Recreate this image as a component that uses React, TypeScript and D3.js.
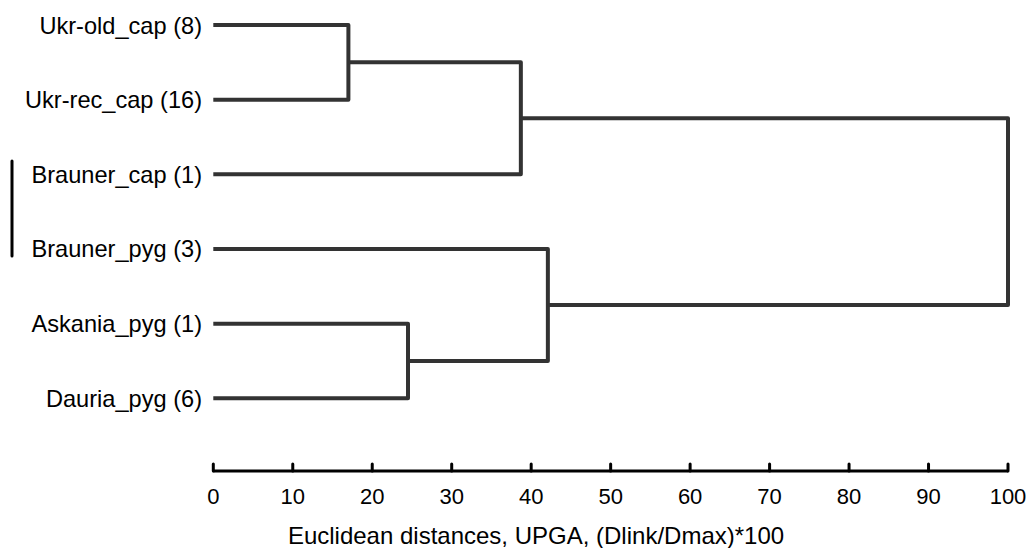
import React from 'react';
import * as d3 from 'd3';

// leaf labels, top to bottom
const leaves = [
  "Ukr-old_cap (8)",
  "Ukr-rec_cap (16)",
  "Brauner_cap (1)",
  "Brauner_pyg (3)",
  "Askania_pyg (1)",
  "Dauria_pyg (6)",
];

// linkage: [a, b, height] ; new node ids start at leaves.length
const merges: [number, number, number][] = [
  [0, 1, 17.0],
  [4, 5, 24.5],
  [6, 2, 38.7],
  [3, 7, 42.1],
  [8, 9, 100],
];

const xTicks = [0, 10, 20, 30, 40, 50, 60, 70, 80, 90, 100];
const axisTitle = "Euclidean distances, UPGA, (Dlink/Dmax)*100";

const W = 1030;
const H = 548;
const font = "'Liberation Sans', Arial, sans-serif";

const App = () => {
  const x = d3.scaleLinear().domain([0, 100]).range([213.3, 1008]);
  const y = d3.scalePoint<string>().domain(leaves).range([25, 398.3]);

  // position of every node (leaf or cluster)
  const nodeY: number[] = leaves.map(l => y(l) as number);
  const nodeH: number[] = leaves.map(() => 0);
  merges.forEach(([a, b, h]) => {
    nodeY.push((nodeY[a] + nodeY[b]) / 2);
    nodeH.push(h);
  });

  const paths = merges.map(([a, b, h]) => {
    const p = d3.path();
    p.moveTo(x(nodeH[a]), nodeY[a]);
    p.lineTo(x(h), nodeY[a]);
    p.lineTo(x(h), nodeY[b]);
    p.lineTo(x(nodeH[b]), nodeY[b]);
    return p.toString();
  });

  const axisY = 471;

  return (
    <div style={{ position: 'absolute', left: 0, top: 0 }}>
      <svg width={W} height={H} style={{ display: 'block', background: '#fff' }}>
        {/* bracket on the left */}
        <line x1={12} x2={12} y1={161} y2={256} stroke="#000" strokeWidth={3} strokeLinecap="round" />

        {leaves.map(l => (
          <text key={l} x={202} y={(y(l) as number) + 8.5} textAnchor="end"
            fontFamily={font} fontSize={23.6} fill="#000">{l}</text>
        ))}

        {paths.map((d, i) => (
          <path key={i} d={d} fill="none" stroke="#333" strokeWidth={4} strokeLinejoin="round" />
        ))}

        {/* axis */}
        <line x1={x(0)} x2={x(100)} y1={axisY} y2={axisY} stroke="#000" strokeWidth={3} />
        {xTicks.map(t => (
          <g key={t}>
            <line x1={x(t)} x2={x(t)} y1={axisY - 7} y2={axisY} stroke="#000" strokeWidth={3} strokeLinecap="round" />
            <text x={x(t)} y={504} textAnchor="middle" fontFamily={font} fontSize={22} fill="#000">{t}</text>
          </g>
        ))}
        <text x={536} y={544} textAnchor="middle" fontFamily={font} fontSize={24} fill="#000">{axisTitle}</text>
      </svg>
    </div>
  );
};

export default App;
